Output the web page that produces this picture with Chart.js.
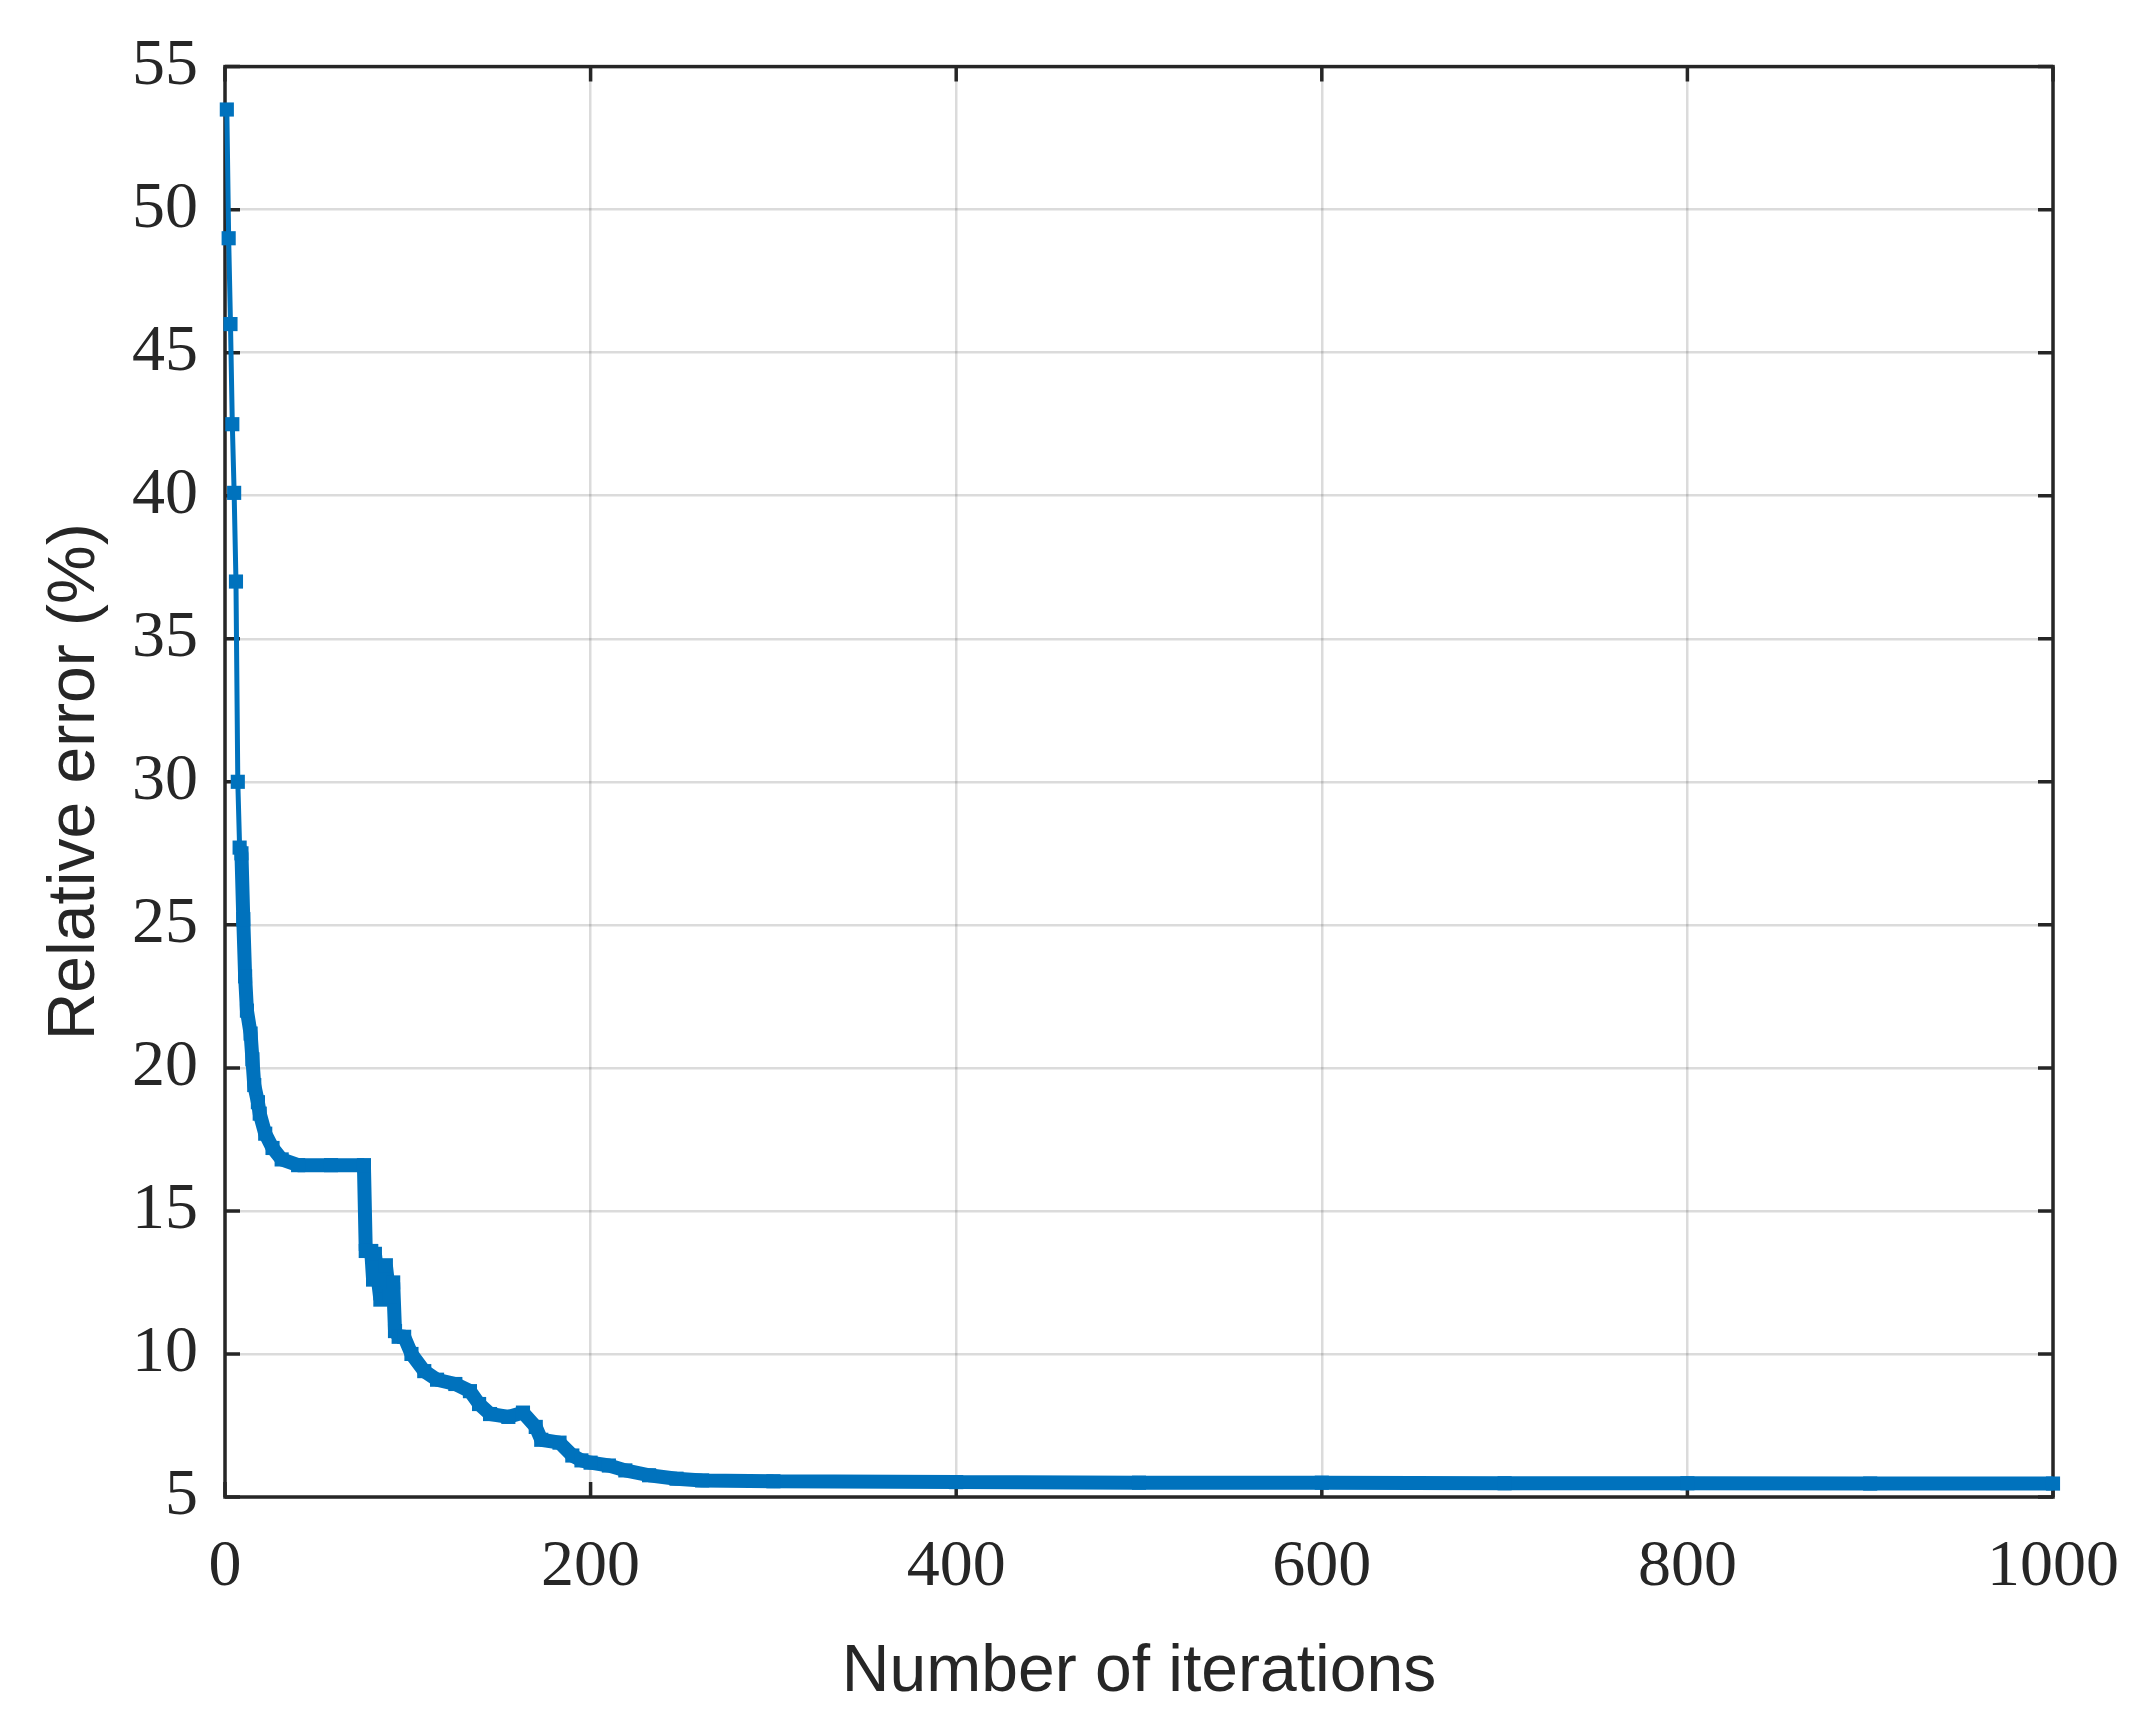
<!DOCTYPE html>
<html>
<head>
<meta charset="utf-8">
<script src="https://cdn.jsdelivr.net/npm/chart.js@4.4.1/dist/chart.umd.min.js"></script>
<style>
  html, body { margin: 0; padding: 0; background: #fff; }
  canvas { display: block; }
</style>
</head>
<body>
<canvas id="myChart" width="2156" height="1720"></canvas>
<script>
// values
const iterations = [
  1, 2, 3, 4, 5, 6, 7, 8, 9, 10, 11, 12, 14, 15, 16, 18, 19, 22, 26, 31, 40, 58, 76,
  77, 80, 81, 82, 85, 88, 90, 92, 93, 95, 98, 102, 109, 116, 126, 134, 139, 145, 155,
  163, 170, 173, 183, 190, 195, 200, 210, 219, 232, 247, 261, 300, 400, 500, 600, 700,
  800, 900, 1000
];
const relativeError = [
  53.5, 49.0, 46.0, 42.5, 40.1, 37.0, 30.0, 27.7, 27.5, 25.2, 23.2, 22.0, 21.2, 20.3,
  19.4, 18.8, 18.4, 17.7, 17.2, 16.8, 16.6, 16.6, 16.6,
  13.6, 13.6, 12.6, 13.5, 11.9, 13.1, 12.0, 12.5, 10.8, 10.6, 10.6, 10.0, 9.4, 9.1,
  8.95, 8.7, 8.25, 7.9, 7.8, 7.95, 7.45, 7.0, 6.9, 6.45, 6.28, 6.2, 6.1, 5.93, 5.76,
  5.64, 5.58, 5.55, 5.52, 5.5, 5.5, 5.48, 5.48, 5.47, 5.47
];
const xTickValues = [0, 200, 400, 600, 800, 1000];
const yTickValues = [5, 10, 15, 20, 25, 30, 35, 40, 45, 50, 55];

const lineBlue = '#0072BD';
const axisGrey = '#262626';

// MATLAB style box with inward ticks on all four sides
const boxPlugin = {
  id: 'matlabBox',
  beforeDatasetsDraw(chart) {
    const {ctx, chartArea: a, scales: {x, y}} = chart;
    const len = 15;
    ctx.save();
    ctx.strokeStyle = axisGrey;
    ctx.lineWidth = 3.5;
    ctx.beginPath();
    x.ticks.forEach(t => {
      const px = x.getPixelForValue(t.value);
      ctx.moveTo(px, a.bottom); ctx.lineTo(px, a.bottom - len);
      ctx.moveTo(px, a.top); ctx.lineTo(px, a.top + len);
    });
    y.ticks.forEach(t => {
      const py = y.getPixelForValue(t.value);
      ctx.moveTo(a.left, py); ctx.lineTo(a.left + len, py);
      ctx.moveTo(a.right, py); ctx.lineTo(a.right - len, py);
    });
    ctx.stroke();
    ctx.strokeRect(a.left, a.top, a.right - a.left, a.bottom - a.top);
    ctx.restore();
  }
};

const points = iterations.map((it, i) => ({x: it, y: relativeError[i]}));

new Chart(document.getElementById('myChart'), {
  type: 'line',
  data: {
    datasets: [{
      data: points,
      borderColor: lineBlue,
      backgroundColor: lineBlue,
      borderWidth: 5,
      borderJoinStyle: 'bevel',
      pointStyle: 'rect',
      pointRadius: 10,
      pointBorderWidth: 0,
      pointBackgroundColor: lineBlue,
      clip: false,
      segment: {
        // dense markers make the later curve a thick band
        borderWidth: ctx => ctx.p0.parsed.x >= 8 ? 14 : 5
      }
    }]
  },
  options: {
    responsive: false,
    devicePixelRatio: 1,
    animation: false,
    layout: { padding: { left: 0, right: 103, top: 62, bottom: 0 } },
    plugins: { legend: { display: false }, tooltip: { enabled: false } },
    scales: {
      x: {
        type: 'linear',
        min: 0, max: 1000,
        afterBuildTicks: s => { s.ticks = xTickValues.map(v => ({value: v})); },
        afterFit: s => { s.height = 223; },
        ticks: {
          color: axisGrey,
          font: { family: 'Liberation Serif', size: 66 },
          padding: 31,
          maxRotation: 0,
          callback: v => String(v)
        },
        grid: { color: 'rgba(0,0,0,0.14)', lineWidth: 2.5, drawTicks: false },
        border: { display: false },
        title: {
          display: true,
          text: 'Number of iterations',
          color: axisGrey,
          font: { family: 'Liberation Sans', size: 66 },
          padding: 8
        }
      },
      y: {
        type: 'linear',
        min: 5, max: 55,
        afterBuildTicks: s => { s.ticks = yTickValues.map(v => ({value: v})); },
        afterFit: s => { s.width = 225; },
        ticks: {
          color: axisGrey,
          font: { family: 'Liberation Serif', size: 66 },
          padding: 27,
          callback: v => String(v)
        },
        grid: { color: 'rgba(0,0,0,0.14)', lineWidth: 2.5, drawTicks: false },
        border: { display: false },
        title: {
          display: true,
          text: 'Relative error (%)',
          color: axisGrey,
          font: { family: 'Liberation Sans', size: 66 },
          padding: 36
        }
      }
    }
  },
  plugins: [boxPlugin]
});
</script>
</body>
</html>
